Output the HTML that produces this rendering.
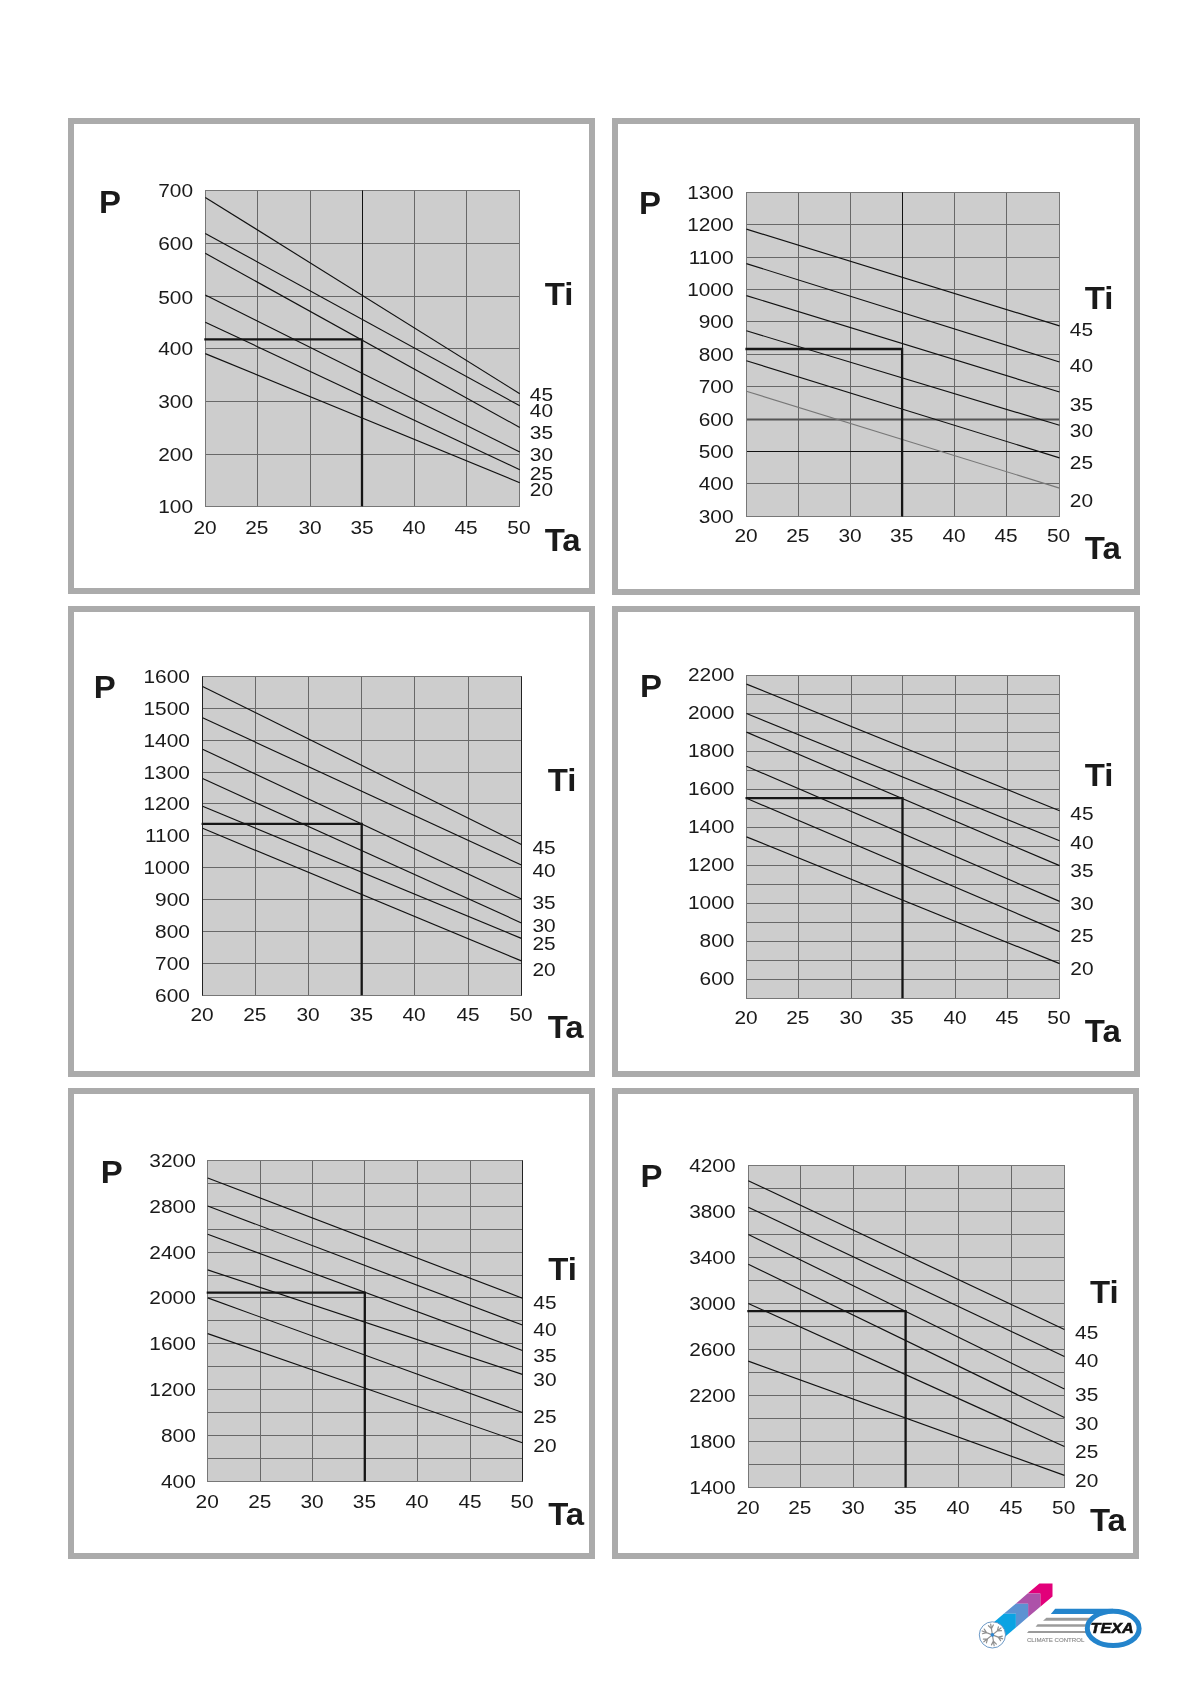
<!DOCTYPE html>
<html><head><meta charset="utf-8"><title>Charts</title>
<style>
html,body{margin:0;padding:0;background:#fff;}
body{width:1191px;height:1684px;overflow:hidden;position:relative;}
svg{position:absolute;left:0;top:0;display:block;will-change:transform;}
.d{font-family:"Liberation Sans",Arial,Helvetica,sans-serif;font-size:18.5px;fill:#1a1a1a;}
.b{font-family:"Liberation Sans",Arial,Helvetica,sans-serif;font-size:30.5px;font-weight:bold;fill:#1a1a1a;}
</style></head>
<body>
<svg width="1191" height="1684" viewBox="0 0 1191 1684">
<rect x="71" y="121" width="521" height="470" fill="none" stroke="#ababab" stroke-width="6"/>
<rect x="615" y="121" width="522" height="471" fill="none" stroke="#ababab" stroke-width="6"/>
<rect x="71" y="609" width="521" height="465" fill="none" stroke="#ababab" stroke-width="6"/>
<rect x="615" y="609" width="522" height="465" fill="none" stroke="#ababab" stroke-width="6"/>
<rect x="71" y="1091" width="521" height="465" fill="none" stroke="#ababab" stroke-width="6"/>
<rect x="615" y="1091" width="521" height="465" fill="none" stroke="#ababab" stroke-width="6"/>
<g id="c1">
<rect x="205.3" y="190.4" width="314.5" height="315.8" fill="#cdcdcd"/>
<path d="M205.3 243.5H519.8M205.3 296.5H519.8M205.3 348.5H519.8M205.3 401.5H519.8M205.3 454.5H519.8M257.5 190.4V506.2M310.5 190.4V506.2M414.5 190.4V506.2M466.5 190.4V506.2" stroke="#686868" stroke-width="1" fill="none"/>
<rect x="205.5" y="190.5" width="314" height="316" fill="none" stroke="#777" stroke-width="1"/>
<path d="M362.5 190.4V506.2" stroke="#111" stroke-width="1"/>
<path d="M205.3 197.4L519.8 393.7" stroke="#111" stroke-width="1.15" fill="none"/>
<path d="M205.3 233.4L519.8 405.8" stroke="#111" stroke-width="1.15" fill="none"/>
<path d="M205.3 253.3L519.8 427.5" stroke="#111" stroke-width="1.15" fill="none"/>
<path d="M205.3 295L519.8 452" stroke="#111" stroke-width="1.15" fill="none"/>
<path d="M205.3 322.2L519.8 469.7" stroke="#111" stroke-width="1.15" fill="none"/>
<path d="M205.3 353.6L519.8 482.7" stroke="#111" stroke-width="1.15" fill="none"/>
<path d="M204.3 339.3H362V506.2" stroke="#151515" stroke-width="2.3" fill="none"/>
<text class="d" transform="translate(193.1,197.1) scale(1.13,1)" text-anchor="end">700</text>
<text class="d" transform="translate(193.1,250) scale(1.13,1)" text-anchor="end">600</text>
<text class="d" transform="translate(193.1,303.5) scale(1.13,1)" text-anchor="end">500</text>
<text class="d" transform="translate(193.1,355.2) scale(1.13,1)" text-anchor="end">400</text>
<text class="d" transform="translate(193.1,408.4) scale(1.13,1)" text-anchor="end">300</text>
<text class="d" transform="translate(193.1,461) scale(1.13,1)" text-anchor="end">200</text>
<text class="d" transform="translate(193.1,513) scale(1.13,1)" text-anchor="end">100</text>
<text class="d" transform="translate(205.1,533.6) scale(1.13,1)" text-anchor="middle">20</text>
<text class="d" transform="translate(256.8,533.6) scale(1.13,1)" text-anchor="middle">25</text>
<text class="d" transform="translate(310,533.6) scale(1.13,1)" text-anchor="middle">30</text>
<text class="d" transform="translate(362,533.6) scale(1.13,1)" text-anchor="middle">35</text>
<text class="d" transform="translate(414,533.6) scale(1.13,1)" text-anchor="middle">40</text>
<text class="d" transform="translate(466,533.6) scale(1.13,1)" text-anchor="middle">45</text>
<text class="d" transform="translate(518.9,533.6) scale(1.13,1)" text-anchor="middle">50</text>
<text class="d" transform="translate(529.8,400.52) scale(1.13,1)" text-anchor="start">45</text>
<text class="d" transform="translate(529.8,417.17) scale(1.13,1)" text-anchor="start">40</text>
<text class="d" transform="translate(529.8,438.57) scale(1.13,1)" text-anchor="start">35</text>
<text class="d" transform="translate(529.8,461.07) scale(1.13,1)" text-anchor="start">30</text>
<text class="d" transform="translate(529.8,479.67) scale(1.13,1)" text-anchor="start">25</text>
<text class="d" transform="translate(529.8,496.17) scale(1.13,1)" text-anchor="start">20</text>
<text class="b" transform="translate(98.9,212.6) scale(1.08,1)">P</text>
<text class="b" transform="translate(544.7,305) scale(1.08,1)">Ti</text>
<text class="b" transform="translate(544.7,551) scale(1.08,1)">Ta</text>
</g>
<g id="c2">
<rect x="746.4" y="192.3" width="313.1" height="324.1" fill="#cdcdcd"/>
<path d="M746.4 224.5H1059.5M746.4 257.5H1059.5M746.4 289.5H1059.5M746.4 321.5H1059.5M746.4 354.5H1059.5M746.4 386.5H1059.5M746.4 419.5H1059.5M746.4 451.5H1059.5M746.4 483.5H1059.5M798.5 192.3V516.4M850.5 192.3V516.4M954.5 192.3V516.4M1006.5 192.3V516.4" stroke="#686868" stroke-width="1" fill="none"/>
<path d="M746.4 419.5H1059.5" stroke="#555" stroke-width="1.8"/>
<path d="M746.4 451.5H1059.5" stroke="#111" stroke-width="1.1"/>
<rect x="746.5" y="192.5" width="313" height="324" fill="none" stroke="#777" stroke-width="1"/>
<path d="M902.5 192.3V516.4" stroke="#111" stroke-width="1"/>
<path d="M746.4 229.1L1059.5 325.9" stroke="#111" stroke-width="1.15" fill="none"/>
<path d="M746.4 263.6L1059.5 362" stroke="#111" stroke-width="1.15" fill="none"/>
<path d="M746.4 295.6L1059.5 392" stroke="#111" stroke-width="1.15" fill="none"/>
<path d="M746.4 330.8L1059.5 425.3" stroke="#111" stroke-width="1.15" fill="none"/>
<path d="M746.4 360.7L1059.5 457.9" stroke="#111" stroke-width="1.15" fill="none"/>
<path d="M746.4 391.2L1059.5 488.1" stroke="#777" stroke-width="1.15" fill="none"/>
<path d="M745.4 349H902.1V516.4" stroke="#151515" stroke-width="2.3" fill="none"/>
<text class="d" transform="translate(733.6,198.8) scale(1.13,1)" text-anchor="end">1300</text>
<text class="d" transform="translate(733.6,231.21) scale(1.13,1)" text-anchor="end">1200</text>
<text class="d" transform="translate(733.6,263.62) scale(1.13,1)" text-anchor="end">1100</text>
<text class="d" transform="translate(733.6,296.03) scale(1.13,1)" text-anchor="end">1000</text>
<text class="d" transform="translate(733.6,328.44) scale(1.13,1)" text-anchor="end">900</text>
<text class="d" transform="translate(733.6,360.85) scale(1.13,1)" text-anchor="end">800</text>
<text class="d" transform="translate(733.6,393.26) scale(1.13,1)" text-anchor="end">700</text>
<text class="d" transform="translate(733.6,425.67) scale(1.13,1)" text-anchor="end">600</text>
<text class="d" transform="translate(733.6,458.08) scale(1.13,1)" text-anchor="end">500</text>
<text class="d" transform="translate(733.6,490.49) scale(1.13,1)" text-anchor="end">400</text>
<text class="d" transform="translate(733.6,522.9) scale(1.13,1)" text-anchor="end">300</text>
<text class="d" transform="translate(746.1,542.3) scale(1.13,1)" text-anchor="middle">20</text>
<text class="d" transform="translate(797.8,542.3) scale(1.13,1)" text-anchor="middle">25</text>
<text class="d" transform="translate(850,542.3) scale(1.13,1)" text-anchor="middle">30</text>
<text class="d" transform="translate(901.7,542.3) scale(1.13,1)" text-anchor="middle">35</text>
<text class="d" transform="translate(954,542.3) scale(1.13,1)" text-anchor="middle">40</text>
<text class="d" transform="translate(1006,542.3) scale(1.13,1)" text-anchor="middle">45</text>
<text class="d" transform="translate(1058.6,542.3) scale(1.13,1)" text-anchor="middle">50</text>
<text class="d" transform="translate(1069.8,336.17) scale(1.13,1)" text-anchor="start">45</text>
<text class="d" transform="translate(1069.8,372.07) scale(1.13,1)" text-anchor="start">40</text>
<text class="d" transform="translate(1069.8,411.02) scale(1.13,1)" text-anchor="start">35</text>
<text class="d" transform="translate(1069.8,436.57) scale(1.13,1)" text-anchor="start">30</text>
<text class="d" transform="translate(1069.8,468.52) scale(1.13,1)" text-anchor="start">25</text>
<text class="d" transform="translate(1069.8,507.27) scale(1.13,1)" text-anchor="start">20</text>
<text class="b" transform="translate(639.1,214.4) scale(1.08,1)">P</text>
<text class="b" transform="translate(1084.7,309.2) scale(1.08,1)">Ti</text>
<text class="b" transform="translate(1084.8,559.3) scale(1.08,1)">Ta</text>
</g>
<g id="c3">
<rect x="202.6" y="676.3" width="318.8" height="319" fill="#cdcdcd"/>
<path d="M202.6 708.5H521.4M202.6 740.5H521.4M202.6 772.5H521.4M202.6 803.5H521.4M202.6 835.5H521.4M202.6 867.5H521.4M202.6 899.5H521.4M202.6 931.5H521.4M202.6 963.5H521.4M255.5 676.3V995.3M308.5 676.3V995.3M361.5 676.3V995.3M414.5 676.3V995.3M468.5 676.3V995.3" stroke="#686868" stroke-width="1" fill="none"/>
<rect x="202.5" y="676.5" width="319" height="319" fill="none" stroke="#777" stroke-width="1"/>
<path d="M202.5 676.5V995.5M521.5 676.5V995.5" stroke="#222" stroke-width="1"/>
<path d="M202.6 686.4L521.4 844.6" stroke="#111" stroke-width="1.15" fill="none"/>
<path d="M202.6 717.8L521.4 865" stroke="#111" stroke-width="1.15" fill="none"/>
<path d="M202.6 749.2L521.4 899" stroke="#111" stroke-width="1.15" fill="none"/>
<path d="M202.6 778.6L521.4 922.9" stroke="#111" stroke-width="1.15" fill="none"/>
<path d="M202.6 806.3L521.4 938.4" stroke="#111" stroke-width="1.15" fill="none"/>
<path d="M202.6 828.3L521.4 960.9" stroke="#111" stroke-width="1.15" fill="none"/>
<path d="M201.6 823.9H361.7V995.3" stroke="#151515" stroke-width="2.3" fill="none"/>
<text class="d" transform="translate(189.9,682.8) scale(1.13,1)" text-anchor="end">1600</text>
<text class="d" transform="translate(189.9,714.7) scale(1.13,1)" text-anchor="end">1500</text>
<text class="d" transform="translate(189.9,746.6) scale(1.13,1)" text-anchor="end">1400</text>
<text class="d" transform="translate(189.9,778.5) scale(1.13,1)" text-anchor="end">1300</text>
<text class="d" transform="translate(189.9,810.4) scale(1.13,1)" text-anchor="end">1200</text>
<text class="d" transform="translate(189.9,842.3) scale(1.13,1)" text-anchor="end">1100</text>
<text class="d" transform="translate(189.9,874.2) scale(1.13,1)" text-anchor="end">1000</text>
<text class="d" transform="translate(189.9,906.1) scale(1.13,1)" text-anchor="end">900</text>
<text class="d" transform="translate(189.9,938) scale(1.13,1)" text-anchor="end">800</text>
<text class="d" transform="translate(189.9,969.9) scale(1.13,1)" text-anchor="end">700</text>
<text class="d" transform="translate(189.9,1001.8) scale(1.13,1)" text-anchor="end">600</text>
<text class="d" transform="translate(202,1020.7) scale(1.13,1)" text-anchor="middle">20</text>
<text class="d" transform="translate(254.8,1020.7) scale(1.13,1)" text-anchor="middle">25</text>
<text class="d" transform="translate(308,1020.7) scale(1.13,1)" text-anchor="middle">30</text>
<text class="d" transform="translate(361.4,1020.7) scale(1.13,1)" text-anchor="middle">35</text>
<text class="d" transform="translate(414.1,1020.7) scale(1.13,1)" text-anchor="middle">40</text>
<text class="d" transform="translate(468,1020.7) scale(1.13,1)" text-anchor="middle">45</text>
<text class="d" transform="translate(521.1,1020.7) scale(1.13,1)" text-anchor="middle">50</text>
<text class="d" transform="translate(532.4,853.57) scale(1.13,1)" text-anchor="start">45</text>
<text class="d" transform="translate(532.4,876.57) scale(1.13,1)" text-anchor="start">40</text>
<text class="d" transform="translate(532.4,909.38) scale(1.13,1)" text-anchor="start">35</text>
<text class="d" transform="translate(532.4,932.32) scale(1.13,1)" text-anchor="start">30</text>
<text class="d" transform="translate(532.4,949.73) scale(1.13,1)" text-anchor="start">25</text>
<text class="d" transform="translate(532.4,975.62) scale(1.13,1)" text-anchor="start">20</text>
<text class="b" transform="translate(93.7,697.8) scale(1.08,1)">P</text>
<text class="b" transform="translate(547.8,791.1) scale(1.08,1)">Ti</text>
<text class="b" transform="translate(547.7,1038) scale(1.08,1)">Ta</text>
</g>
<g id="c4">
<rect x="746.5" y="675.6" width="313.1" height="322.6" fill="#cdcdcd"/>
<path d="M746.5 694.5H1059.6M746.5 713.5H1059.6M746.5 732.5H1059.6M746.5 751.5H1059.6M746.5 770.5H1059.6M746.5 789.5H1059.6M746.5 808.5H1059.6M746.5 827.5H1059.6M746.5 846.5H1059.6M746.5 865.5H1059.6M746.5 884.5H1059.6M746.5 903.5H1059.6M746.5 922.5H1059.6M746.5 941.5H1059.6M746.5 960.5H1059.6M746.5 979.5H1059.6M798.5 675.6V998.2M851.5 675.6V998.2M902.5 675.6V998.2M955.5 675.6V998.2M1007.5 675.6V998.2" stroke="#686868" stroke-width="1" fill="none"/>
<rect x="746.5" y="675.5" width="313" height="323" fill="none" stroke="#777" stroke-width="1"/>
<path d="M746.5 684.1L1059.6 810.7" stroke="#111" stroke-width="1.15" fill="none"/>
<path d="M746.5 713.5L1059.6 840.8" stroke="#111" stroke-width="1.15" fill="none"/>
<path d="M746.5 732.1L1059.6 865.6" stroke="#111" stroke-width="1.15" fill="none"/>
<path d="M746.5 766.3L1059.6 901.4" stroke="#111" stroke-width="1.15" fill="none"/>
<path d="M746.5 798.3L1059.6 931.6" stroke="#111" stroke-width="1.15" fill="none"/>
<path d="M746.5 836.9L1059.6 963.6" stroke="#111" stroke-width="1.15" fill="none"/>
<path d="M745.5 798.1H902.5V998.2" stroke="#151515" stroke-width="2.3" fill="none"/>
<text class="d" transform="translate(734.4,681.4) scale(1.13,1)" text-anchor="end">2200</text>
<text class="d" transform="translate(734.4,719.35) scale(1.13,1)" text-anchor="end">2000</text>
<text class="d" transform="translate(734.4,757.31) scale(1.13,1)" text-anchor="end">1800</text>
<text class="d" transform="translate(734.4,795.26) scale(1.13,1)" text-anchor="end">1600</text>
<text class="d" transform="translate(734.4,833.21) scale(1.13,1)" text-anchor="end">1400</text>
<text class="d" transform="translate(734.4,871.16) scale(1.13,1)" text-anchor="end">1200</text>
<text class="d" transform="translate(734.4,909.12) scale(1.13,1)" text-anchor="end">1000</text>
<text class="d" transform="translate(734.4,947.07) scale(1.13,1)" text-anchor="end">800</text>
<text class="d" transform="translate(734.4,985.02) scale(1.13,1)" text-anchor="end">600</text>
<text class="d" transform="translate(746.1,1023.5) scale(1.13,1)" text-anchor="middle">20</text>
<text class="d" transform="translate(797.8,1023.5) scale(1.13,1)" text-anchor="middle">25</text>
<text class="d" transform="translate(851,1023.5) scale(1.13,1)" text-anchor="middle">30</text>
<text class="d" transform="translate(902.1,1023.5) scale(1.13,1)" text-anchor="middle">35</text>
<text class="d" transform="translate(955,1023.5) scale(1.13,1)" text-anchor="middle">40</text>
<text class="d" transform="translate(1007,1023.5) scale(1.13,1)" text-anchor="middle">45</text>
<text class="d" transform="translate(1058.9,1023.5) scale(1.13,1)" text-anchor="middle">50</text>
<text class="d" transform="translate(1070.3,819.77) scale(1.13,1)" text-anchor="start">45</text>
<text class="d" transform="translate(1070.3,849.12) scale(1.13,1)" text-anchor="start">40</text>
<text class="d" transform="translate(1070.3,877.32) scale(1.13,1)" text-anchor="start">35</text>
<text class="d" transform="translate(1070.3,910.43) scale(1.13,1)" text-anchor="start">30</text>
<text class="d" transform="translate(1070.3,941.68) scale(1.13,1)" text-anchor="start">25</text>
<text class="d" transform="translate(1070.3,974.73) scale(1.13,1)" text-anchor="start">20</text>
<text class="b" transform="translate(640,697.1) scale(1.08,1)">P</text>
<text class="b" transform="translate(1084.7,786.1) scale(1.08,1)">Ti</text>
<text class="b" transform="translate(1084.8,1041.6) scale(1.08,1)">Ta</text>
</g>
<g id="c5">
<rect x="207.7" y="1160.5" width="314.7" height="320.7" fill="#cdcdcd"/>
<path d="M207.7 1183.5H522.4M207.7 1206.5H522.4M207.7 1229.5H522.4M207.7 1252.5H522.4M207.7 1275.5H522.4M207.7 1297.5H522.4M207.7 1320.5H522.4M207.7 1343.5H522.4M207.7 1366.5H522.4M207.7 1389.5H522.4M207.7 1412.5H522.4M207.7 1435.5H522.4M207.7 1458.5H522.4M260.5 1160.5V1481.2M312.5 1160.5V1481.2M364.5 1160.5V1481.2M417.5 1160.5V1481.2M470.5 1160.5V1481.2" stroke="#686868" stroke-width="1" fill="none"/>
<rect x="207.5" y="1160.5" width="315" height="321" fill="none" stroke="#777" stroke-width="1"/>
<path d="M522.5 1160.5V1481.5" stroke="#222" stroke-width="1"/>
<path d="M207.7 1178L522.4 1298.2" stroke="#111" stroke-width="1.15" fill="none"/>
<path d="M207.7 1206L522.4 1325" stroke="#111" stroke-width="1.15" fill="none"/>
<path d="M207.7 1234.2L522.4 1350.5" stroke="#111" stroke-width="1.15" fill="none"/>
<path d="M207.7 1269.9L522.4 1374.4" stroke="#111" stroke-width="1.15" fill="none"/>
<path d="M207.7 1297.9L522.4 1412.5" stroke="#111" stroke-width="1.15" fill="none"/>
<path d="M207.7 1333.6L522.4 1442.8" stroke="#111" stroke-width="1.15" fill="none"/>
<path d="M206.7 1292.7H364.8V1481.2" stroke="#151515" stroke-width="2.3" fill="none"/>
<text class="d" transform="translate(195.8,1166.9) scale(1.13,1)" text-anchor="end">3200</text>
<text class="d" transform="translate(195.8,1212.71) scale(1.13,1)" text-anchor="end">2800</text>
<text class="d" transform="translate(195.8,1258.53) scale(1.13,1)" text-anchor="end">2400</text>
<text class="d" transform="translate(195.8,1304.34) scale(1.13,1)" text-anchor="end">2000</text>
<text class="d" transform="translate(195.8,1350.16) scale(1.13,1)" text-anchor="end">1600</text>
<text class="d" transform="translate(195.8,1395.97) scale(1.13,1)" text-anchor="end">1200</text>
<text class="d" transform="translate(195.8,1441.79) scale(1.13,1)" text-anchor="end">800</text>
<text class="d" transform="translate(195.8,1487.6) scale(1.13,1)" text-anchor="end">400</text>
<text class="d" transform="translate(207.2,1507.7) scale(1.13,1)" text-anchor="middle">20</text>
<text class="d" transform="translate(259.8,1507.7) scale(1.13,1)" text-anchor="middle">25</text>
<text class="d" transform="translate(312,1507.7) scale(1.13,1)" text-anchor="middle">30</text>
<text class="d" transform="translate(364.4,1507.7) scale(1.13,1)" text-anchor="middle">35</text>
<text class="d" transform="translate(417,1507.7) scale(1.13,1)" text-anchor="middle">40</text>
<text class="d" transform="translate(470.1,1507.7) scale(1.13,1)" text-anchor="middle">45</text>
<text class="d" transform="translate(522,1507.7) scale(1.13,1)" text-anchor="middle">50</text>
<text class="d" transform="translate(533.3,1308.78) scale(1.13,1)" text-anchor="start">45</text>
<text class="d" transform="translate(533.3,1335.73) scale(1.13,1)" text-anchor="start">40</text>
<text class="d" transform="translate(533.3,1362.23) scale(1.13,1)" text-anchor="start">35</text>
<text class="d" transform="translate(533.3,1385.53) scale(1.13,1)" text-anchor="start">30</text>
<text class="d" transform="translate(533.3,1423.43) scale(1.13,1)" text-anchor="start">25</text>
<text class="d" transform="translate(533.3,1452.18) scale(1.13,1)" text-anchor="start">20</text>
<text class="b" transform="translate(100.7,1182.8) scale(1.08,1)">P</text>
<text class="b" transform="translate(548.2,1279.9) scale(1.08,1)">Ti</text>
<text class="b" transform="translate(548.2,1524.6) scale(1.08,1)">Ta</text>
</g>
<g id="c6">
<rect x="748.3" y="1165.1" width="316.1" height="322.3" fill="#cdcdcd"/>
<path d="M748.3 1188.5H1064.4M748.3 1211.5H1064.4M748.3 1234.5H1064.4M748.3 1257.5H1064.4M748.3 1280.5H1064.4M748.3 1303.5H1064.4M748.3 1326.5H1064.4M748.3 1349.5H1064.4M748.3 1372.5H1064.4M748.3 1395.5H1064.4M748.3 1418.5H1064.4M748.3 1441.5H1064.4M748.3 1464.5H1064.4M800.5 1165.1V1487.4M853.5 1165.1V1487.4M905.5 1165.1V1487.4M958.5 1165.1V1487.4M1011.5 1165.1V1487.4" stroke="#686868" stroke-width="1" fill="none"/>
<rect x="748.5" y="1165.5" width="316" height="322" fill="none" stroke="#777" stroke-width="1"/>
<path d="M748.3 1180.7L1064.4 1329.5" stroke="#111" stroke-width="1.15" fill="none"/>
<path d="M748.3 1207.2L1064.4 1356.6" stroke="#111" stroke-width="1.15" fill="none"/>
<path d="M748.3 1234.4L1064.4 1389" stroke="#111" stroke-width="1.15" fill="none"/>
<path d="M748.3 1264.3L1064.4 1417.5" stroke="#111" stroke-width="1.15" fill="none"/>
<path d="M748.3 1303.4L1064.4 1446.5" stroke="#111" stroke-width="1.15" fill="none"/>
<path d="M748.3 1361.1L1064.4 1475.4" stroke="#111" stroke-width="1.15" fill="none"/>
<path d="M747.3 1311.2H905.6V1487.4" stroke="#151515" stroke-width="2.3" fill="none"/>
<text class="d" transform="translate(735.6,1171.6) scale(1.13,1)" text-anchor="end">4200</text>
<text class="d" transform="translate(735.6,1217.64) scale(1.13,1)" text-anchor="end">3800</text>
<text class="d" transform="translate(735.6,1263.69) scale(1.13,1)" text-anchor="end">3400</text>
<text class="d" transform="translate(735.6,1309.73) scale(1.13,1)" text-anchor="end">3000</text>
<text class="d" transform="translate(735.6,1355.77) scale(1.13,1)" text-anchor="end">2600</text>
<text class="d" transform="translate(735.6,1401.81) scale(1.13,1)" text-anchor="end">2200</text>
<text class="d" transform="translate(735.6,1447.86) scale(1.13,1)" text-anchor="end">1800</text>
<text class="d" transform="translate(735.6,1493.9) scale(1.13,1)" text-anchor="end">1400</text>
<text class="d" transform="translate(748.1,1513.6) scale(1.13,1)" text-anchor="middle">20</text>
<text class="d" transform="translate(799.8,1513.6) scale(1.13,1)" text-anchor="middle">25</text>
<text class="d" transform="translate(853,1513.6) scale(1.13,1)" text-anchor="middle">30</text>
<text class="d" transform="translate(905.3,1513.6) scale(1.13,1)" text-anchor="middle">35</text>
<text class="d" transform="translate(958,1513.6) scale(1.13,1)" text-anchor="middle">40</text>
<text class="d" transform="translate(1011.1,1513.6) scale(1.13,1)" text-anchor="middle">45</text>
<text class="d" transform="translate(1063.7,1513.6) scale(1.13,1)" text-anchor="middle">50</text>
<text class="d" transform="translate(1075.1,1339.43) scale(1.13,1)" text-anchor="start">45</text>
<text class="d" transform="translate(1075.1,1367.12) scale(1.13,1)" text-anchor="start">40</text>
<text class="d" transform="translate(1075.1,1400.78) scale(1.13,1)" text-anchor="start">35</text>
<text class="d" transform="translate(1075.1,1429.62) scale(1.13,1)" text-anchor="start">30</text>
<text class="d" transform="translate(1075.1,1457.93) scale(1.13,1)" text-anchor="start">25</text>
<text class="d" transform="translate(1075.1,1486.73) scale(1.13,1)" text-anchor="start">20</text>
<text class="b" transform="translate(640.4,1186.5) scale(1.08,1)">P</text>
<text class="b" transform="translate(1089.9,1303) scale(1.08,1)">Ti</text>
<text class="b" transform="translate(1089.9,1531.1) scale(1.08,1)">Ta</text>
</g>
<g id="logo">
<polygon points="1039.41,1583.5 1052.5,1583.5 1052.5,1596.38 1040.3,1606.74 1040.3,1593.6 1027.53,1593.6" fill="#e2007a"/>
<polygon points="1027.53,1593.6 1040.3,1593.6 1040.3,1606.74 1028.1,1617.12 1028.1,1603.7 1015.65,1603.7" fill="#ad52a9"/>
<polygon points="1015.65,1603.7 1028.1,1603.7 1028.1,1617.12 1015.9,1627.48 1015.9,1613.8 1003.76,1613.8" fill="#5c92d2"/>
<polygon points="1003.76,1613.8 1015.9,1613.8 1015.9,1627.48 993,1646.95 985,1629.75" fill="#0aa3e3"/>
<circle cx="992.4" cy="1634.9" r="13.1" fill="#fff" stroke="#5b8dbf" stroke-width="0.9"/>
<path d="M992.4 1634.9L1002.67 1638.84M998.28 1637.16L1002.34 1636.07M998.28 1637.16L1000.57 1640.68M992.4 1634.9L994.12 1645.76M993.39 1641.12L996.36 1644.09M993.39 1641.12L991.48 1644.86M992.4 1634.9L983.85 1641.82M987.5 1638.86L986.42 1642.92M987.5 1638.86L983.31 1639.08M992.4 1634.9L982.13 1630.96M986.52 1632.64L982.46 1633.73M986.52 1632.64L984.23 1629.12M992.4 1634.9L990.68 1624.04M991.41 1628.68L988.44 1625.71M991.41 1628.68L993.32 1624.94M992.4 1634.9L1000.95 1627.98M997.3 1630.94L998.38 1626.88M997.3 1630.94L1001.49 1630.72" stroke="#8f8f8f" stroke-width="1.2" fill="none" stroke-linecap="round"/>
<circle cx="992.4" cy="1634.9" r="1.8" fill="#2f86d0"/>
<polygon points="1055.2,1608.7 1113,1608.7 1113,1613.9 1050.8,1613.9" fill="#2384cc"/>
<polygon points="1046.4,1617.7 1092,1617.7 1092,1620.8 1043,1620.8" fill="#9b9b9b"/>
<polygon points="1037.6,1624.3 1092,1624.3 1092,1626.7 1035.6,1626.7" fill="#9b9b9b"/>
<polygon points="1028.6,1631.1 1092,1631.1 1092,1633.1 1027,1633.1" fill="#9b9b9b"/>
<ellipse cx="1113.2" cy="1628.4" rx="25.9" ry="17.2" fill="#fff" stroke="#2384cc" stroke-width="5"/>
<text transform="translate(1090.6,1632.9) scale(1.17,1)" style="font-family:'Liberation Sans',Arial,sans-serif;font-weight:bold;font-style:italic;font-size:13.8px;fill:#111;stroke:#111;stroke-width:0.55px">TEXA</text>
<text transform="translate(1026.9,1641.7) scale(1.0,1)" style="font-family:'Liberation Sans',Arial,sans-serif;font-weight:normal;font-size:6.1px;fill:#8c8c8c;stroke:#8c8c8c;stroke-width:0.15px">CLIMATE CONTROL</text>
</g>
</svg>
</body></html>
